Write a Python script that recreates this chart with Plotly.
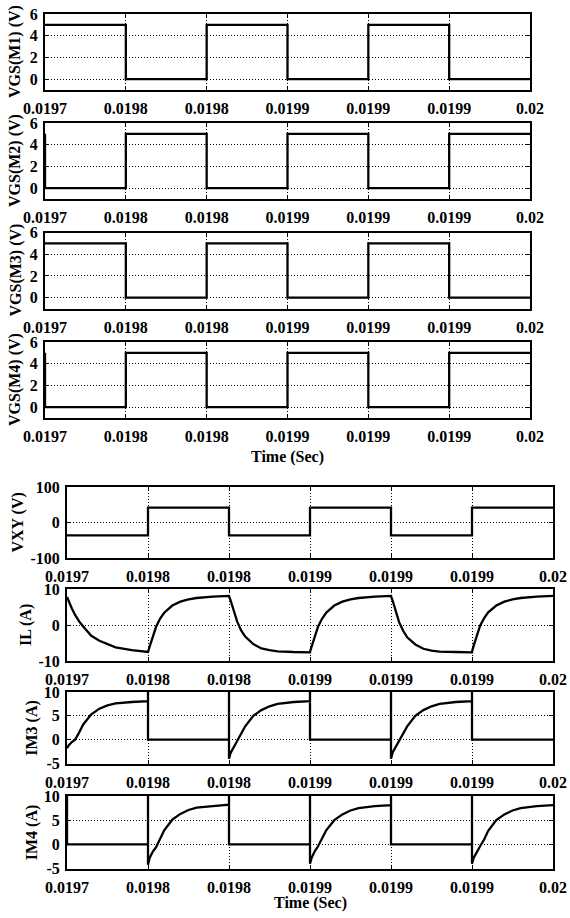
import plotly.graph_objects as go

# ---------------- data ----------------
t_ticks = [0.0197, 0.01975, 0.0198, 0.01985, 0.0199, 0.01995, 0.02]
t_tick_text = ["0.0197", "0.0198", "0.0198", "0.0199", "0.0199", "0.0199", "0.02"]

# gate-source voltages (V): step points (time, level)
vgs_time = [0.0197, 0.0197, 0.01975, 0.0198, 0.01985, 0.0199, 0.01995, 0.02]
vgs_m1 = [5, 5, 0, 5, 0, 5, 0, 0]
vgs_m2 = [5, 0, 5, 0, 5, 0, 5, 5]
vgs_m3 = [5, 5, 0, 5, 0, 5, 0, 0]
vgs_m4 = [5, 0, 5, 0, 5, 0, 5, 5]

# bridge output voltage (V)
vxy_time = [0.0197, 0.01975, 0.0198, 0.01985, 0.0199, 0.01995, 0.02]
vxy_vals = [-36, 42, -36, 42, -36, 42, 42]

# half-period starts and sample offsets (microseconds) inside each half-period
half_starts = [0.0197, 0.01975, 0.0198, 0.01985, 0.0199, 0.01995]
offsets_us = [0, 1, 3, 5, 7.5, 10, 15, 20, 25, 30, 40, 50]

# inductor current (A), one list per half-period
il_seg0 = [7.8, 6.6, 4.6, 2.8, 1.0, -0.4, -3.0, -4.4, -5.4, -6.2, -7.0, -7.5]
il_seg1 = [-7.5, -6.0, -3.0, -0.5, 1.8, 3.4, 5.4, 6.5, 7.1, 7.5, 7.9, 8.1]
il_seg2 = [8.1, 6.8, 3.6, 1.0, -1.5, -3.2, -5.3, -6.5, -7.0, -7.3, -7.5, -7.6]
il_seg3 = [-7.5, -6.0, -3.0, -0.4, 1.8, 3.4, 5.4, 6.5, 7.1, 7.5, 7.9, 8.1]
il_seg4 = [8.0, 6.8, 3.4, 0.8, -1.6, -3.4, -5.4, -6.6, -7.1, -7.4, -7.5, -7.6]
il_seg5 = [-7.4, -5.8, -2.8, -0.2, 1.9, 3.5, 5.4, 6.5, 7.1, 7.5, 7.9, 8.1]

# switch currents (A) during conduction half-periods
im3_seg0 = [-1.8, -1.2, -0.5, 0.0, 1.5, 3.2, 5.3, 6.5, 7.2, 7.6, 7.9, 8.1]
im3_seg2 = [-4.0, -2.8, -1.5, -0.3, 1.1, 2.8, 5.0, 6.2, 7.0, 7.5, 7.9, 8.1]
im3_seg4 = [-4.0, -2.7, -1.5, -0.4, 1.0, 2.8, 5.0, 6.2, 7.0, 7.5, 7.9, 8.1]
im4_seg1 = [-4.2, -2.8, -1.5, -0.6, 1.0, 2.9, 5.1, 6.3, 7.1, 7.6, 7.9, 8.2]
im4_seg3 = [-4.0, -2.8, -1.4, -0.4, 1.1, 2.9, 5.0, 6.2, 7.0, 7.5, 7.9, 8.1]
im4_seg5 = [-4.0, -2.8, -1.5, -0.4, 1.0, 2.8, 5.0, 6.2, 7.0, 7.5, 7.9, 8.1]
spike_peak = 10.5   # switching spikes run past the top of the panel

# ---------------- helpers ----------------
def seg_times(start):
    return [start + o * 1e-6 for o in offsets_us]

il_t, il_y = [], []
for s, seg in zip(half_starts, [il_seg0, il_seg1, il_seg2, il_seg3, il_seg4, il_seg5]):
    il_t += seg_times(s)
    il_y += seg


def switch_current(on_segments, lead_spike):
    t, y = [], []
    n = len(half_starts)
    for k, s in enumerate(half_starts):
        end = s + offsets_us[-1] * 1e-6
        if k in on_segments:
            if k > 0:
                t += [s]
                y += [spike_peak]
            t += seg_times(s)
            y += on_segments[k]
            if k < n - 1:
                t += [end]
                y += [spike_peak]
        else:
            if k == 0 and lead_spike:
                t += [s]
                y += [spike_peak]
            t += [s, end]
            y += [0, 0]
    return t, y


im3_t, im3_y = switch_current({0: im3_seg0, 2: im3_seg2, 4: im3_seg4}, False)
im4_t, im4_y = switch_current({1: im4_seg1, 3: im4_seg3, 5: im4_seg5}, True)

# ---------------- layout geometry (pixels) ----------------
W, H = 570, 918
FONT = "Liberation Serif"
top_x = (45, 530)
bot_x = (67, 553)
panels = [
    (top_x, 14, 90),
    (top_x, 123, 199),
    (top_x, 232.5, 308.5),
    (top_x, 342, 418),
    (bot_x, 487, 558),
    (bot_x, 589, 661),
    (bot_x, 692, 763.5),
    (bot_x, 796, 868.5),
]

y_specs = [
    dict(range=[-1, 6], tickvals=[0, 2, 4, 6], ticktext=["0", "2", "4", "6"]),
    dict(range=[-1, 6], tickvals=[0, 2, 4, 6], ticktext=["0", "2", "4", "6"]),
    dict(range=[-1, 6], tickvals=[0, 2, 4, 6], ticktext=["0", "2", "4", "6"]),
    dict(range=[-1, 6], tickvals=[0, 2, 4, 6], ticktext=["0", "2", "4", "6"]),
    dict(range=[-100, 100], tickvals=[-100, 0, 100], ticktext=["-100", "0", "100"]),
    dict(range=[-10, 10], tickvals=[-10, 0, 10], ticktext=["-10", "0", "10"]),
    dict(range=[-5, 10], tickvals=[-5, 0, 5, 10], ticktext=["-5", "0", "5", "10"]),
    dict(range=[-5, 10], tickvals=[-5, 0, 5, 10], ticktext=["-5", "0", "5", "10"]),
]

series = [
    (vgs_time, vgs_m1, "hv"),
    (vgs_time, vgs_m2, "hv"),
    (vgs_time, vgs_m3, "hv"),
    (vgs_time, vgs_m4, "hv"),
    (vxy_time, vxy_vals, "hv"),
    (il_t, il_y, "linear"),
    (im3_t, im3_y, "linear"),
    (im4_t, im4_y, "linear"),
]

y_titles = ["VGS(M1) (V)", "VGS(M2) (V)", "VGS(M3) (V)", "VGS(M4) (V)",
            "VXY (V)", "IL (A)", "IM3 (A)", "IM4 (A)"]
y_title_x = [15, 15, 15, 15, 17, 26, 32, 32]

tickfont = dict(family=FONT, size=16, color="black", weight="bold")

fig = go.Figure()
layout = dict(
    width=W, height=H,
    margin=dict(l=0, r=0, t=0, b=0, pad=0, autoexpand=False),
    paper_bgcolor="white", plot_bgcolor="white",
    showlegend=False,
    annotations=[],
)

for i, ((xr, ytop, ybot), ys, (tx, ty, shape)) in enumerate(zip(panels, y_specs, series)):
    n = i + 1
    xa = "xaxis" if n == 1 else f"xaxis{n}"
    ya = "yaxis" if n == 1 else f"yaxis{n}"
    xref = "x" if n == 1 else f"x{n}"
    yref = "y" if n == 1 else f"y{n}"
    common = dict(
        showline=True, linecolor="black", linewidth=2, mirror="ticks",
        ticks="inside", ticklen=4, tickcolor="black", tickwidth=1,
        showgrid=True, gridcolor="black", gridwidth=1, griddash="1px,2px",
        zeroline=False, tickfont=tickfont, tickmode="array",
        fixedrange=True, automargin=False,
    )
    layout[xa] = dict(
        domain=[xr[0] / W, xr[1] / W], anchor=yref,
        range=[t_ticks[0], t_ticks[-1]],
        tickvals=t_ticks, ticktext=t_tick_text,
        ticklabelstandoff=3,
        **common,
    )
    layout[ya] = dict(
        domain=[1 - ybot / H, 1 - ytop / H], anchor=xref,
        ticklabelstandoff=2,
        **ys, **common,
    )
    fig.add_trace(go.Scatter(
        x=tx, y=ty, mode="lines", line=dict(color="black", width=2.3, shape=shape),
        xaxis=xref, yaxis=yref, hoverinfo="skip",
    ))
    layout["annotations"].append(dict(
        text=y_titles[i], xref="paper", yref="paper",
        x=y_title_x[i] / W, y=1 - (ytop + ybot) / 2 / H,
        xanchor="center", yanchor="middle", textangle=-90, showarrow=False,
        font=dict(family=FONT, size=16, color="black", weight="bold"),
    ))

for cx, cy in [(287.5, 457), (310, 903)]:
    layout["annotations"].append(dict(
        text="Time (Sec)", xref="paper", yref="paper",
        x=cx / W, y=1 - cy / H, xanchor="center", yanchor="middle",
        showarrow=False,
        font=dict(family=FONT, size=16, color="black", weight="bold"),
    ))

fig.update_layout(**layout)
fig.write_html(
    "out.html",
    config={"displayModeBar": False},
    post_script="document.body.style.margin='0';document.body.style.overflow='hidden';",
)
